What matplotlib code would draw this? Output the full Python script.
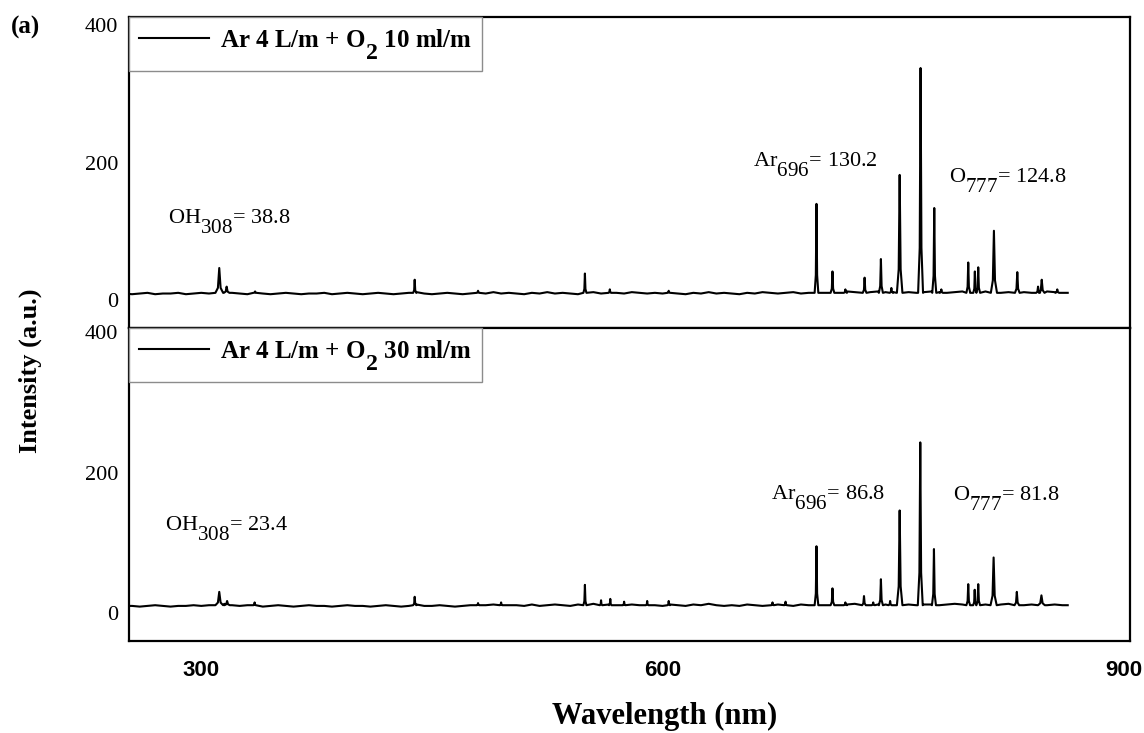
import numpy as np
import matplotlib
matplotlib.use('Agg')
import matplotlib.pyplot as plt
import matplotlib._mathtext as mtext

plt.rcParams['mathtext.fontset'] = 'custom'
plt.rcParams['mathtext.rm'] = 'Liberation Serif'
plt.rcParams['mathtext.it'] = 'Liberation Serif:italic'
plt.rcParams['mathtext.bf'] = 'Liberation Serif:bold'
# subscripts in the original are almost full size and dropped low
mtext.SHRINK_FACTOR = 0.95
mtext.FontConstantsBase.sub1 = 1.0

# ---- data ----
# peaks: centre (nm), height (a.u.), half width at the base (nm)
top_pk_c = [311.7, 316.5, 335.0, 438.8, 480.0, 549.5, 565.7, 604.0, 700.1, 710.5, 718.9, 731.4, 742.0, 748.8,
            754.2, 767.8, 776.7, 781.3, 798.8, 803.1, 805.3, 815.5, 830.7, 844.2, 846.6, 856.7]
top_pk_h = [47, 20, 13, 30, 14, 39, 16, 14, 140, 42, 16, 33, 60, 18,
            182, 337, 134, 16, 55, 42, 48, 101, 41, 20, 30, 16]
top_pk_w = [2.5, 1.8, 0.8, 1.0, 0.8, 1.0, 0.8, 0.8, 1.2, 1.2, 1.0, 1.2, 1.3, 1.0,
            1.8, 1.6, 1.3, 1.0, 1.2, 1.0, 1.2, 2.0, 1.5, 1.2, 1.8, 1.2]

bot_pk_c = [311.7, 316.8, 334.7, 438.8, 480.0, 495.0, 549.5, 560.0, 566.0, 575.0, 590.0, 604.0, 671.5, 680.0,
            700.1, 710.5, 718.9, 731.0, 737.0, 742.0, 748.0, 754.2, 767.6, 776.5, 798.8, 803.0, 805.3,
            815.3, 830.4, 846.4]
bot_pk_h = [30, 17, 15, 23, 14, 15, 40, 18, 20, 16, 17, 17, 15, 16,
            95, 35, 15, 24, 15, 48, 17, 146, 243, 91, 41, 33, 41,
            79, 30, 25]
bot_pk_w = [2.5, 1.8, 0.8, 1.0, 0.8, 0.8, 1.0, 0.8, 0.8, 0.8, 0.8, 0.8, 0.8, 0.8,
            1.2, 1.2, 1.0, 1.2, 1.0, 1.3, 1.0, 1.8, 1.6, 1.3, 1.2, 1.0, 1.2,
            2.0, 1.5, 2.2]

# baseline, sampled every 5 nm from 250 nm
base_wl = list(range(250, 865, 5))
top_base = [10, 9, 10, 11, 9, 10, 10, 11, 9, 10, 11,
            10, 12, 13, 11, 10, 9, 11, 10, 9, 10, 11, 10, 9, 10, 10, 11, 9, 10, 11, 10,
            9, 10, 11, 10, 9, 10, 11, 12, 10, 9, 10, 11, 10, 9, 10, 11, 10, 12, 10, 11,
            10, 9, 11, 10, 12, 10, 11, 10, 9, 11, 12, 10, 13, 11, 10, 12, 11, 10, 11, 10,
            11, 10, 9, 11, 10, 12, 10, 11, 10, 9, 11, 10, 12, 11, 10, 11, 12, 10, 11, 12,
            11, 12, 11, 13, 12, 11, 12, 13, 12, 12, 13, 12, 11, 12, 13, 12, 11, 12, 13, 12,
            12, 13, 12, 11, 12, 13, 12, 11, 12, 13, 12, 11]
bot_base = [10, 10, 9, 10, 11, 10, 9, 10, 10, 11, 10,
            11, 12, 13, 11, 10, 11, 10, 9, 10, 11, 10, 9, 10, 11, 10, 10, 9, 10, 11, 10,
            10, 9, 10, 11, 10, 9, 10, 12, 10, 10, 11, 10, 9, 10, 11, 10, 11, 12, 10, 11,
            11, 10, 12, 10, 11, 12, 11, 10, 12, 11, 13, 11, 12, 11, 10, 12, 11, 12, 11, 10,
            12, 11, 10, 12, 11, 13, 11, 10, 11, 10, 12, 11, 10, 11, 12, 11, 10, 12, 11, 12,
            11, 12, 11, 12, 13, 12, 11, 12, 12, 11, 13, 12, 11, 12, 12, 11, 12, 13, 12, 11,
            12, 12, 11, 12, 13, 12, 11, 12, 12, 11, 12, 11]
end_wl = 863.5

labels = ['Ar 4 L/m + O$_\\mathbf{2}$ 10 ml/m', 'Ar 4 L/m + O$_\\mathbf{2}$ 30 ml/m']
top_notes = [('OH$_{308}$= 38.8', 278.6, 115), ('Ar$_{696}$= 130.2', 658.7, 198), ('O$_{777}$= 124.8', 786.2, 174)]
bot_notes = [('OH$_{308}$= 23.4', 276.6, 121), ('Ar$_{696}$= 86.8', 670.8, 165), ('O$_{777}$= 81.8', 788.8, 164)]


def build_line(centres, heights, widths, base):
    # baseline points outside any peak + peak vertices
    pts = []
    for x, y in zip(base_wl, base):
        if x > end_wl:
            continue
        inside = any(abs(x - c) <= w for c, w in zip(centres, widths))
        if not inside:
            pts.append((x, y))
    pts.append((end_wl, base[-1]))
    for c, h, w in zip(centres, heights, widths):
        b = 11
        pts += [(c - w, b), (c - 0.35 * w, b + 0.2 * (h - b)), (c, h),
                (c + 0.35 * w, b + 0.2 * (h - b)), (c + w, b)]
    pts.sort(key=lambda p: p[0])
    return [p[0] for p in pts], [p[1] for p in pts]


serif = 'Liberation Serif'
fig = plt.figure(figsize=[11.44, 7.33], dpi=100)
ax1 = fig.add_axes([129 / 1144, 1 - 328 / 733, 1001 / 1144, 311 / 733])
ax2 = fig.add_axes([129 / 1144, 1 - 641 / 733, 1001 / 1144, 313 / 733])

panels = [(ax1, top_pk_c, top_pk_h, top_pk_w, top_base, labels[0], top_notes, 411),
          (ax2, bot_pk_c, bot_pk_h, bot_pk_w, bot_base, labels[1], bot_notes, 406)]

for ax, pc, ph, pw, pb, lab, notes, ytop in panels:
    x, y = build_line(pc, ph, pw, pb)
    ax.plot(x, y, color='black', lw=1.5, label=lab)
    ax.set_xlim(253, 904)
    ax.set_ylim(-40, ytop)
    ax.set_yticks([0, 200, 400])
    ax.set_xticks([300, 600, 900])
    ax.tick_params(length=0)
    ax.tick_params(axis='y', pad=8)
    ax.tick_params(axis='x', pad=14)
    for t in ax.get_yticklabels():
        t.set_fontfamily(serif)
        t.set_fontsize(16)
    for s in ax.spines.values():
        s.set_linewidth(1.6)
    for txt, tx, ty in notes:
        ax.text(tx, ty, txt, fontsize=16, family=serif, va='center', ha='left')
    leg = ax.legend(loc='upper left', bbox_to_anchor=(0, 1), borderaxespad=0,
                    fancybox=False, framealpha=1, edgecolor='#8c8c8c',
                    handlelength=2.8, handletextpad=0.45, borderpad=0.4,
                    prop={'family': serif, 'weight': 'bold', 'size': 18})
    leg.get_frame().set_linewidth(1.0)
    leg.set_zorder(5)

ax1.set_xticklabels([])
for t in ax2.get_xticklabels():
    t.set_fontfamily('Liberation Sans')
    t.set_fontweight('bold')
    t.set_fontsize(16)

fig.text(665 / 1144, 1 - 716 / 733, 'Wavelength (nm)', ha='center', va='center',
         family=serif, weight='bold', fontsize=22)
fig.text(30 / 1144, 1 - 371 / 733, 'Intensity (a.u.)', ha='center', va='center',
         rotation=90, family=serif, weight='bold', fontsize=19)
fig.text(25 / 1144, 1 - 27 / 733, '(a)', ha='center', va='center',
         family=serif, weight='bold', fontsize=18)

fig.savefig('out.png', dpi=100)
